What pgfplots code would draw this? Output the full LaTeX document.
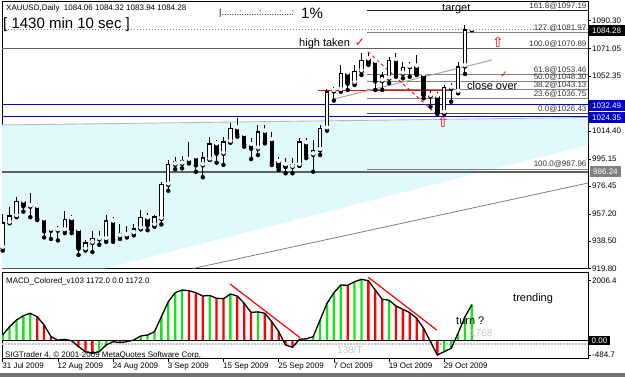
\documentclass[border=0pt]{standalone}
\usepackage{fontspec}
\setmainfont{Liberation Sans}
\newfontfamily\dejavu{DejaVu Sans}
\usepackage{pgfplots}
\pgfplotsset{compat=1.18}
\usepackage{pgfplotstable}
\definecolor{chan}{RGB}{224,250,252}
\definecolor{mtblue}{RGB}{0,0,205}
\definecolor{mtgreen}{RGB}{20,230,20}
\definecolor{dgray}{RGB}{96,96,96}
\definecolor{fibgray}{RGB}{128,128,128}
\newcommand{\tf}[1]{\fontsize{#1}{#1}\selectfont}

\pgfplotstableread{
i o h l c
0 934 957 932 951
1 951.2 961.8 950.9 955.8
2 955.8 969.1 955 965.8
3 965.8 966.8 958.8 962.8
4 962.5 971.4 955 962.8
5 962.2 965 953 954.2
6 953.5 955 941 945.5
7 946.3 948 940 946
8 946 949 939 947
9 946.1 959 944 953.5
10 953.7 956.6 944 946.2
11 946.2 947.3 929 933.6
12 933 939 932 937.5
13 937.5 945.3 931 940.5
14 940 945.5 936 941
15 940 956.6 938 952.6
16 952 955 938 940
17 942 950 940 944
18 942.5 949 941 944
19 944 950 942.5 947
20 947.3 960 946.6 954.9
21 954.2 957.6 946 949.6
22 949.6 956.5 948.4 955.3
23 954 979.5 950 977.6
24 977.6 994.4 973.2 991.4
25 991.4 996.6 988 993.2
26 992 997 988.6 994
27 994.5 1007 992 993.8
28 996.2 997 986.3 991
29 991 1000 982.5 996
30 994.8 1010.4 994.4 1005.4
31 1005.2 1008.1 992.5 999
32 999 1010.4 991 1007
33 1007 1019.6 1006.3 1016.2
34 1016.2 1023 1010.4 1012.3
35 1011.6 1012 1003.5 1005.4
36 1004.7 1009.3 995 1002.4
37 1002.4 1018.5 997.8 1013.9
38 1013.9 1018.5 1005.8 1007
39 1008.1 1013.9 990.9 993
40 993 996.6 987.5 989.3
41 990.9 995.6 985.2 989.8
42 989.8 995.6 985.2 991.6
43 991 1009.3 990.3 1007
44 1005.9 1009.3 995.6 997.8
45 998.3 1008 986.3 1000.8
46 1001.3 1018.5 997.8 1016.2
47 1016.2 1043.1 1014.6 1041.4
48 1041.9 1044.9 1035.3 1042.2
49 1042.6 1059.8 1041.4 1054
50 1054 1056.3 1042.6 1047.2
51 1047.6 1059.8 1046 1055.6
52 1055.6 1067.8 1052.9 1063.2
53 1063.7 1068.3 1059.8 1061
54 1062 1063.2 1042.6 1048.8
55 1049 1055.2 1042.6 1052.4
56 1050.6 1065.5 1047.2 1063.2
57 1063.2 1067.8 1051.7 1053.6
58 1054 1062.1 1050.6 1058.2
59 1058.6 1062.1 1051.7 1058.7
60 1058.7 1066.7 1052.9 1053.6
61 1052.9 1053 1036.8 1039.1
62 1038.4 1042.6 1031.1 1038.6
63 1038 1041.4 1026.1 1027
64 1027 1046 1026.1 1044.4
65 1044 1047.2 1034.5 1044.3
66 1041.4 1062.1 1040.3 1058.6
67 1059.1 1087.3 1053.6 1084.06
68 1084.06 1084.32 1083.94 1084.28
}\candles

\pgfplotstableread{
i v
0 184
1 462
2 687
3 831
4 911
9 40
14 -374
15 -150
16 -40
18 -40
19 17
20 150
21 184
22 296
23 797
24 1300
25 1600
26 1690
30 1510
33 1557
37 960
43 40
44 60
45 127
46 687
47 1246
48 1600
49 1859
51 1970
52 2050
56 1350
64 -374
65 -261
66 241
67 797
68 1200
}\macdgreen

\pgfplotstableread{
i v
5 797
6 519
7 127
8 10
10 -10
11 -207
12 -374
13 -430
17 -70
27 1670
28 1600
29 1490
31 1413
32 1400
34 1490
35 1246
36 940
38 911
39 630
40 296
41 -150
42 -228
50 1850
53 2003
54 1692
55 1380
57 1156
58 1045
59 931
60 744
61 409
62 -40
63 -486
}\macdred

\pgfplotstableread{
i v
0 184
1 462
2 687
3 831
4 911
5 797
6 519
7 127
8 10
9 40
10 -10
11 -207
12 -374
13 -430
14 -374
15 -150
16 -40
17 -70
18 -40
19 17
20 150
21 184
22 296
23 797
24 1300
25 1600
26 1690
27 1670
28 1600
29 1490
30 1510
31 1413
32 1400
33 1557
34 1490
35 1246
36 940
37 960
38 911
39 630
40 296
41 -150
42 -228
43 40
44 60
45 127
46 687
47 1246
48 1600
49 1859
50 1850
51 1970
52 2050
53 2003
54 1692
55 1380
56 1350
57 1156
58 1045
59 931
60 744
61 409
62 -40
63 -486
64 -374
65 -261
66 241
67 797
68 1200
}\macdline

\begin{document}
\begin{tikzpicture}
\useasboundingbox (0,0) rectangle (625bp,377bp);
\fill[white] (0,0) rectangle (625bp,377bp);
% ---------------- main price panel
\begin{axis}[
 at={(2bp,108.5bp)}, anchor=south west, scale only axis,
 width=586bp, height=267.5bp,
 xmin=-0.10, xmax=84.83, ymin=919.64, ymax=1103.87,
 clip mode=individual,
 axis line style={black, line width=0.7bp},
 xtick=\empty,
 ytick={1090.30,1071.05,1052.35,1014.40,995.15,976.45,957.20,938.50,919.80},
 yticklabels={1090.30,1071.05,1052.35,1014.40,995.15,976.45,957.20,938.50,919.80},
 ytick pos=right, yticklabel pos=right,
 tick align=outside, major tick length=3bp,
 tick style={black, line width=0.6bp},
 yticklabel style={font=\tf{8bp}, anchor=west, inner sep=1bp},
 /pgf/number format/assume math mode=true,
]
% channel
\addplot[fill=chan, draw=none] coordinates {(-0.10,1018.47) (84.83,1023.63) (84.83,1004.7) (14.83,919.64) (-0.10,919.64)};
\addplot[gray!55, line width=0.9bp] coordinates {(-0.10,1018.47) (84.83,1023.63)};
% long rising line
\addplot[fibgray, line width=0.8bp] coordinates {(27.58,919.64) (84.83,978.5)};
% full width horizontal lines
\addplot[dgray, line width=1.2bp] coordinates {(-0.10,1070.89) (84.83,1070.89)};
\addplot[dgray, line width=1.6bp] coordinates {(-0.10,986.24) (84.83,986.24)};
\addplot[mtblue, line width=1bp] coordinates {(-0.10,1032.49) (84.83,1032.49)};
\addplot[mtblue, line width=1bp] coordinates {(-0.10,1024.35) (84.83,1024.35)};
\addplot[gray, line width=0.8bp, dash pattern=on 1bp off 2bp] coordinates {(-0.10,1084.28) (84.83,1084.28)};
% fibonacci levels
\addplot[black!85, line width=0.8bp] coordinates {(52.8,1097.19) (84.83,1097.19)};
\addplot[fibgray, line width=0.8bp] coordinates {(52.8,1081.97) (84.83,1081.97)};
\addplot[fibgray, line width=0.8bp] coordinates {(52.8,1053.46) (84.83,1053.46)};
\addplot[fibgray, line width=0.8bp] coordinates {(52.8,1048.30) (84.83,1048.30)};
\addplot[fibgray, line width=0.8bp] coordinates {(52.8,1043.13) (84.83,1043.13)};
\addplot[fibgray, line width=0.8bp] coordinates {(52.8,1036.75) (84.83,1036.75)};
\addplot[black!70, line width=0.9bp] coordinates {(52.8,1026.43) (84.83,1026.43)};
\addplot[fibgray, line width=0.8bp] coordinates {(52.8,987.96) (84.83,987.96)};
% red level and red dashed line
\addplot[red, line width=1bp] coordinates {(45.7,1042.5) (65.3,1042.5)};
\addplot[red, line width=0.9bp, dash pattern=on 3bp off 3bp] coordinates {(52.94,1068.95) (62.65,1026.7)};
% gray trend line
\addplot[gray!70, line width=1bp] coordinates {(47.87,1036.2) (70.9,1063.2)};
% candles: wicks
\addplot[black, only marks, mark=none, error bars/.cd, y dir=plus, y explicit, error mark=none,
  error bar style={line width=1bp, black, line cap=butt}]
  table[x=i, y=l, y error expr=\thisrow{h}-\thisrow{l}] {\candles};
% bodies (outline)
\addplot[black, only marks, mark=none, error bars/.cd, y dir=plus, y explicit, error mark=none,
  error bar style={line width=4.4bp, black, line cap=butt}]
  table[x=i, y expr={min(\thisrow{o},\thisrow{c})-0.35}, y error expr={abs(\thisrow{c}-\thisrow{o})+0.7}] {\candles};
% bodies (white fill of rising candles)
\addplot[white, only marks, mark=none, error bars/.cd, y dir=plus, y explicit, error mark=none,
  error bar style={line width=2.4bp, white, line cap=butt}]
  table[x=i, y expr={\thisrow{o}+0.69}, y error expr={max(\thisrow{c}-\thisrow{o}-1.38,0)}] {\candles};
% fib labels
\begin{scope}[every node/.style={font=\tf{8bp}, text=black!80, inner sep=0.5bp, anchor=south east}]
\node at (axis cs:84.7,1097.45) {161.8@1097.19};
\node at (axis cs:84.7,1082.2) {127 @1081.97};
\node at (axis cs:84.7,1071.1) {100.0@1070.89};
\node at (axis cs:84.7,1053.7) {61.8@1053.46};
\node at (axis cs:84.7,1048.55) {50.0@1048.30};
\node at (axis cs:84.7,1043.35) {38.2@1043.13};
\node at (axis cs:84.7,1037.0) {23.6@1036.75};
\node at (axis cs:84.7,1026.65) {0.0@1026.43};
\node at (axis cs:84.7,988.3) {100.0@987.96};
\end{scope}
\end{axis}
% ---------------- MACD panel
\begin{axis}[
 at={(2bp,18.5bp)}, anchor=south west, scale only axis,
 width=586bp, height=86bp,
 xmin=-0.10, xmax=84.83, ymin=-603, ymax=2278,
 clip mode=individual,
 axis line style={black, line width=0.7bp},
 xtick={0,8,16,24,32,40,48,56,64},
 xticklabels={31 Jul 2009,12 Aug 2009,24 Aug 2009,3 Sep 2009,15 Sep 2009,25 Sep 2009,7 Oct 2009,19 Oct 2009,29 Oct 2009},
 xtick pos=left,
 ytick={2006.4,-484.7}, yticklabels={2006.4,-484.7},
 ytick pos=right, yticklabel pos=right,
 tick align=outside, major tick length=3bp,
 tick style={black, line width=0.6bp},
 xticklabel style={font=\tf{8bp}, anchor=north west, xshift=-1.5bp, inner sep=1bp},
 yticklabel style={font=\tf{8bp}, anchor=west, inner sep=1bp},
 /pgf/number format/assume math mode=true,
]
\addplot[gray!45, line width=1.6bp, dash pattern=on 1.5bp off 1.5bp] coordinates {(-0.10,-120) (84.83,-120)};
\addplot[ybar, bar width=2.3bp, bar shift=0pt, fill=mtgreen, draw=none] table[x=i,y=v] {\macdgreen};
\addplot[ybar, bar width=2.3bp, bar shift=0pt, fill=red, draw=none] table[x=i,y=v] {\macdred};
\addplot[black, line width=1.1bp] coordinates {(-0.10,0) (84.83,0)};
\addplot[black, line width=1.3bp] table[x=i,y=v] {\macdline};
\addplot[red, line width=1.2bp] coordinates {(32.94,1893) (43.09,94)};
\addplot[red, line width=1.2bp] coordinates {(52.99,2117) (62.9,352)};
\end{axis}
% ---------------- texts and boxes
\node[anchor=west, font=\tf{8bp}, inner sep=0] at (6bp,368.5bp) {XAUUSD,Daily\ \ 1084.06 1084.32 1083.94 1084.28};
\node[anchor=west, font=\tf{15bp}, inner sep=0] at (3bp,352.5bp) {[ 1430 min 10 sec ]};
\node[anchor=west, font=\tf{9bp}, inner sep=0] at (219bp,363.5bp) {|.......:.......:.......:....:};
\node[anchor=west, font=\tf{15bp}, inner sep=0] at (301bp,363.5bp) {1\%};
\node[anchor=west, font=\tf{11bp}, inner sep=0] at (299bp,333bp) {high taken};
\node[anchor=center, font=\dejavu\tf{12bp}, text=red, inner sep=0] at (360bp,334bp) {✓};
\node[anchor=west, font=\tf{11bp}, inner sep=0] at (442bp,367.5bp) {target};
\node[anchor=west, font=\tf{11bp}, inner sep=0] at (467bp,291bp) {close over};
\node[anchor=center, font=\dejavu\tf{9bp}, text=red, inner sep=0] at (504bp,302bp) {✓};
\node[anchor=center, font=\dejavu\tf{14bp}, text=red, inner sep=0] at (498bp,335bp) {⇧};
\node[anchor=center, font=\dejavu\tf{14bp}, text=red, inner sep=0] at (443bp,255bp) {⇧};
% price boxes
\node[anchor=west, fill=black, text=white, font=\tf{8bp}, minimum height=10.5bp, inner xsep=3.5bp, inner ysep=0] at (588.5bp,346.3bp) {1084.28};
\node[anchor=west, fill=mtblue, text=white, font=\tf{8bp}, minimum height=10.5bp, inner xsep=3.5bp, inner ysep=0] at (588.5bp,271.7bp) {1032.49};
\node[anchor=west, fill=mtblue, text=white, font=\tf{8bp}, minimum height=10.5bp, inner xsep=3.5bp, inner ysep=0] at (588.5bp,259.7bp) {1024.35};
\node[anchor=west, fill=gray, text=white, font=\tf{8bp}, minimum height=10.5bp, inner xsep=3.5bp, inner ysep=0] at (589.5bp,205.3bp) {986.24};
% MACD texts
\node[anchor=west, font=\tf{8bp}, inner sep=0] at (6bp,96bp) {MACD\_Colored\_v103 1172.0 0.0 1172.0};
\node[anchor=west, font=\tf{8bp}, inner sep=0] at (5bp,21.5bp) {SIGTrader 4, © 2001-2009 MetaQuotes Software Corp.};
\node[anchor=west, font=\tf{11bp}, inner sep=0] at (513bp,78bp) {trending};
\node[anchor=west, font=\tf{11bp}, inner sep=0] at (456bp,56bp) {turn ?};
\node[anchor=west, font=\tf{10bp}, text=gray!45, inner sep=0] at (470bp,44bp) {1768};
\node[anchor=west, font=\tf{10bp}, text=gray!45, inner sep=0] at (337bp,27bp) {138/T};
\node[anchor=west, fill=black, text=white, font=\tf{8bp}, minimum height=9bp, inner xsep=3bp, inner ysep=0] at (588.5bp,36bp) {0.00};
\fill[black!55] (0,0) rectangle (625bp,3.5bp);
\end{tikzpicture}
\end{document}
